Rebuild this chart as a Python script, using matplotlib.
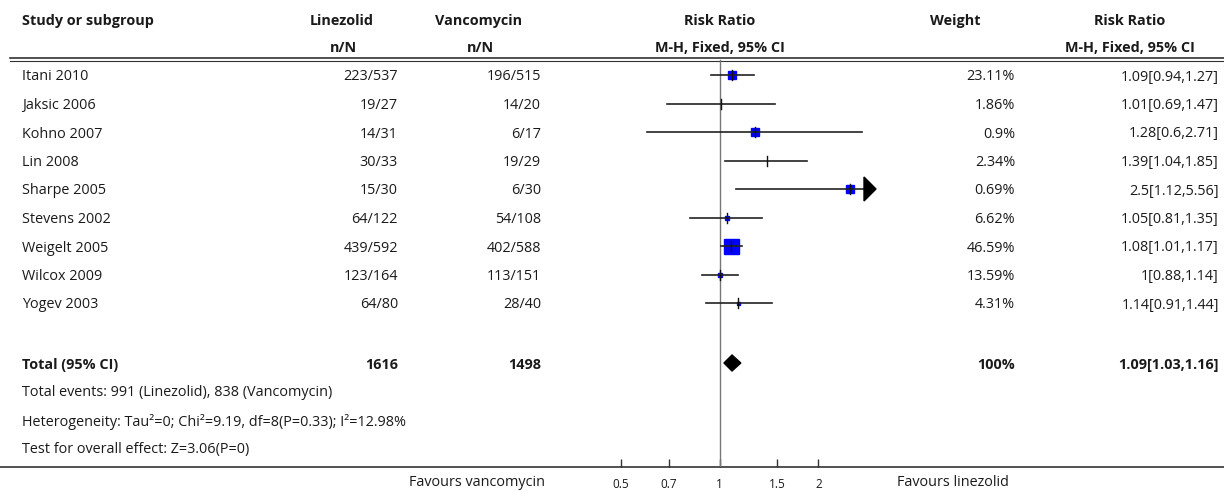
import matplotlib
matplotlib.use('Agg')
import matplotlib.pyplot as plt
from matplotlib.patches import Polygon

plt.rcParams['font.family'] = ['Open Sans', 'DejaVu Sans']

studies = ['Itani 2010', 'Jaksic 2006', 'Kohno 2007', 'Lin 2008', 'Sharpe 2005',
           'Stevens 2002', 'Weigelt 2005', 'Wilcox 2009', 'Yogev 2003']
lin_n = [223, 19, 14, 30, 15, 64, 439, 123, 64]
lin_N = [537, 27, 31, 33, 30, 122, 592, 164, 80]
van_n = [196, 14, 6, 19, 6, 54, 402, 113, 28]
van_N = [515, 20, 17, 29, 30, 108, 588, 151, 40]
weights = [23.11, 1.86, 0.9, 2.34, 0.69, 6.62, 46.59, 13.59, 4.31]
rr = [1.09, 1.01, 1.28, 1.39, 2.5, 1.05, 1.08, 1.0, 1.14]
lo = [0.94, 0.69, 0.6, 1.04, 1.12, 0.81, 1.01, 0.88, 0.91]
hi = [1.27, 1.47, 2.71, 1.85, 5.56, 1.35, 1.17, 1.14, 1.44]
total_lin, total_van = 1616, 1498
total_rr, total_lo, total_hi = 1.09, 1.03, 1.16
ticks = [0.5, 0.7, 1, 1.5, 2]
footnotes = ['Total events: 991 (Linezolid), 838 (Vancomycin)',
             'Heterogeneity: Tau\u00b2=0; Chi\u00b2=9.19, df=8(P=0.33); I\u00b2=12.98%',
             'Test for overall effect: Z=3.06(P=0)']

# square side in px as drawn in the source figure
sq_px = [8, 0, 8, 0, 8, 5, 15, 5, 3]

W, H = 1224, 492
fig = plt.figure(figsize=(W / 100, H / 100), dpi=100)
bg = fig.add_axes([0, 0, 1, 1])
bg.set_xlim(0, W)
bg.set_ylim(H, 0)
bg.axis('off')

tc = '#1a1a1a'
fs = 10.4
dy = 2  # baseline nudge for va=center

# headers
hdr = dict(fontsize=fs, fontweight='bold', color=tc, va='center')
bg.text(22, 19 + dy, 'Study or subgroup', ha='left', **hdr)
bg.text(342, 19 + dy, 'Linezolid', ha='center', **hdr)
bg.text(343, 46 + dy, 'n/N', ha='center', **hdr)
bg.text(479, 19 + dy, 'Vancomycin', ha='center', **hdr)
bg.text(480, 46 + dy, 'n/N', ha='center', **hdr)
bg.text(720, 19 + dy, 'Risk Ratio', ha='center', **hdr)
bg.text(720, 46 + dy, 'M-H, Fixed, 95% CI', ha='center', **hdr)
bg.text(955, 19 + dy, 'Weight', ha='center', **hdr)
bg.text(1130, 19 + dy, 'Risk Ratio', ha='center', **hdr)
bg.text(1130, 46 + dy, 'M-H, Fixed, 95% CI', ha='center', **hdr)

# double rule under header
bg.plot([10, W], [57.5, 57.5], color='#333333', lw=1.2)
bg.plot([10, W], [60.5, 60.5], color='#333333', lw=0.8)

row_y = [75 + i * 28.5 for i in range(len(studies))]
body = dict(fontsize=fs, color=tc, va='center')
for i, s in enumerate(studies):
    y = row_y[i] + dy
    bg.text(22, y, s, ha='left', **body)
    bg.text(398, y, f'{lin_n[i]}/{lin_N[i]}', ha='right', **body)
    bg.text(541, y, f'{van_n[i]}/{van_N[i]}', ha='right', **body)
    bg.text(1015, y, f'{weights[i]:g}%', ha='right', **body)
    bg.text(1219, y, f'{rr[i]:g}[{lo[i]:g},{hi[i]:g}]', ha='right', **body)

ty = 363
bg.text(22, ty + dy, 'Total (95% CI)', ha='left', **hdr)
bg.text(398, ty + dy, f'{total_lin}', ha='right', **hdr)
bg.text(541, ty + dy, f'{total_van}', ha='right', **hdr)
bg.text(1015, ty + dy, '100%', ha='right', **hdr)
bg.text(1219, ty + dy, f'{total_rr:g}[{total_lo:g},{total_hi:g}]', ha='right', **hdr)

for k, t in enumerate(footnotes):
    bg.text(22, 391 + k * 28.5 + dy, t, ha='left', **body)

# bottom rule
bg.plot([0, W], [467, 467], color='#333333', lw=1.2)
bg.text(545, 482, 'Favours vancomycin', ha='right', **body)
bg.text(897, 482, 'Favours linezolid', ha='left', **body)

# forest panel: log axis, pixel rows
x_lo, x_hi = 1 / 3, 3
left_px, right_px = 563.5, 876
fx = fig.add_axes([left_px / W, (H - 467) / H, (right_px - left_px) / W, 467 / H])
fx.patch.set_alpha(0)
fx.set_xscale('log')
fx.set_xlim(x_lo, x_hi)
fx.set_ylim(467, 0)
for sp in ['top', 'left', 'right', 'bottom']:
    fx.spines[sp].set_visible(False)
fx.set_yticks([])
fx.set_xticks(ticks)
fx.set_xticklabels([f'{t:g}' for t in ticks])
fx.minorticks_off()
fx.tick_params(axis='x', direction='in', length=6, width=1, color='#333333',
               labelsize=8.5, labelcolor=tc, pad=8)

fx.axvline(1, ymin=0, ymax=(467 - 60) / 467, color='#777777', lw=1)

for i in range(len(studies)):
    y = row_y[i]
    if sq_px[i] > 0:
        fx.plot(rr[i], y, marker='s', ms=sq_px[i] * 0.72, color='#0000ff',
                mec='#0000ff', zorder=3)
    fx.plot([lo[i], min(hi[i], x_hi)], [y, y], color='#222222', lw=1.2, zorder=4)
    fx.plot([rr[i], rr[i]], [y - 5, y + 5], color='#111111', lw=1, zorder=4)
    if hi[i] > x_hi:
        tri = Polygon([[1 - 12 / (right_px - left_px), y - 12],
                       [1.0, y],
                       [1 - 12 / (right_px - left_px), y + 12]],
                      closed=True, color='black',
                      transform=fx.get_yaxis_transform(), clip_on=False, zorder=5)
        fx.add_patch(tri)

dia = Polygon([[total_lo, ty], [total_rr, ty - 8], [total_hi, ty], [total_rr, ty + 8]],
              closed=True, color='black', zorder=5)
fx.add_patch(dia)

fig.savefig('out.png', dpi=100)
